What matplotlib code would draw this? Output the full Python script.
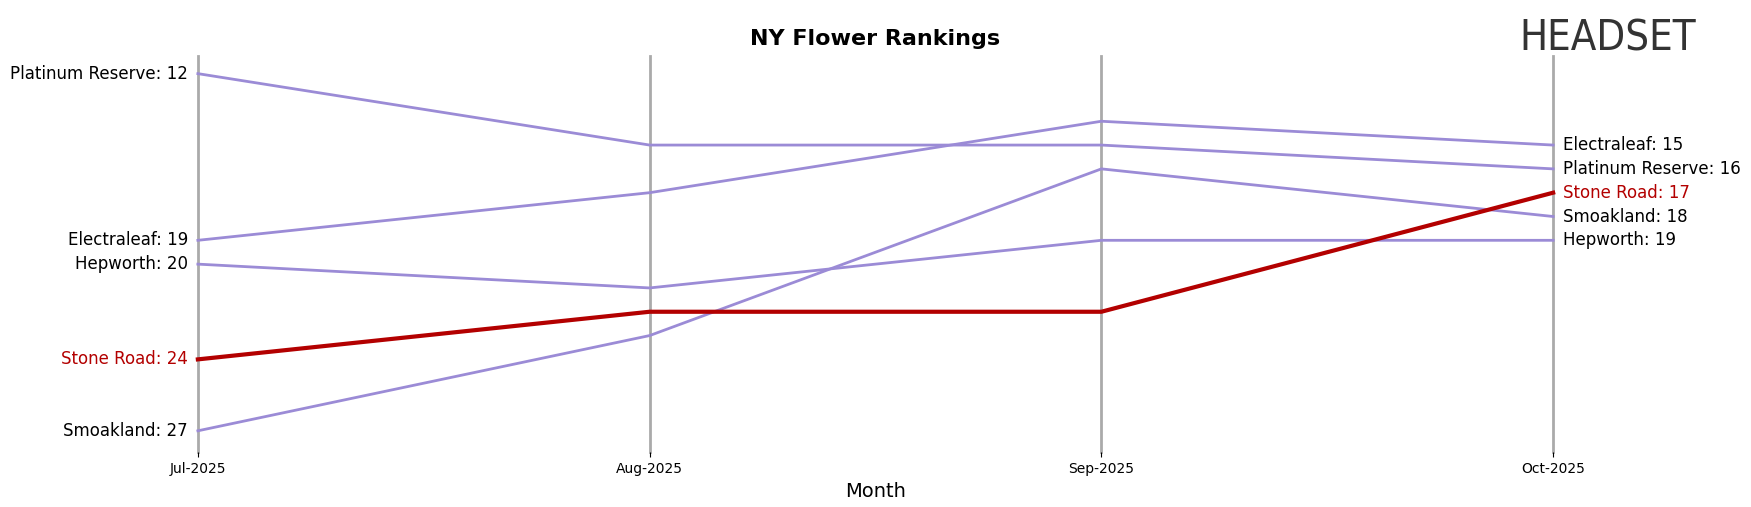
import matplotlib
matplotlib.use("Agg")
import matplotlib.pyplot as plt

months = ["Jul-2025", "Aug-2025", "Sep-2025", "Oct-2025"]
brands = ["Platinum Reserve", "Electraleaf", "Hepworth", "Stone Road", "Smoakland"]
ranks = {
    "Platinum Reserve": [12, 15, 15, 16],
    "Electraleaf": [19, 17, 14, 15],
    "Hepworth": [20, 21, 19, 19],
    "Stone Road": [24, 22, 22, 17],
    "Smoakland": [27, 23, 16, 18],
}
highlight = "Stone Road"

fig = plt.figure(figsize=(17.51, 5.07), dpi=100)
ax = fig.add_axes([0.113, 0.108, 0.774, 0.782])
x = list(range(len(months)))
for xi in x:
    ax.axvline(xi, color="#aaaaaa", lw=2, zorder=0, clip_on=False)
for b in brands:
    hl = b == highlight
    ax.plot(x, ranks[b], color="#b30000" if hl else "#9b8bd6", lw=3 if hl else 2,
            zorder=3 if hl else 2, clip_on=False)
    col = "#b30000" if hl else "black"
    ax.text(-0.022, ranks[b][0], f"{b}: {ranks[b][0]}", ha="right", va="center", fontsize=12, color=col)
    ax.text(3.022, ranks[b][-1], f"{b}: {ranks[b][-1]}", ha="left", va="center", fontsize=12, color=col)
ax.set_xlim(0, 3)
ax.set_ylim(27.9, 11.25)
ax.set_xticks(x)
ax.set_xticklabels(months, fontsize=10)
ax.set_yticks([])
for s in ax.spines.values():
    s.set_visible(False)
ax.set_xlabel("Month", fontsize=14)
ax.set_title("NY Flower Rankings", fontsize=16, fontweight="bold", pad=8)
fig.text(0.918, 0.925, "HEADSET", fontsize=30, color="#333333", va="center", ha="center", fontstretch="condensed")
fig.savefig("out.png", dpi=100)
